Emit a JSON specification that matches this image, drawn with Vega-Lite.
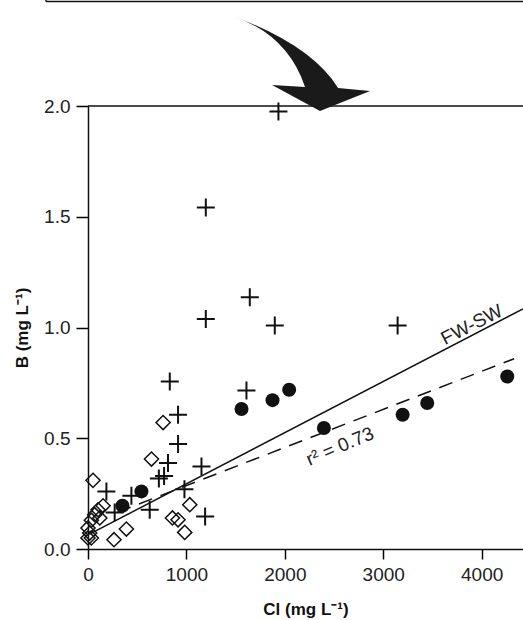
{
  "$schema": "https://vega.github.io/schema/vega-lite/v6.json",
  "autosize": {"type": "none"},
  "padding": {"left": 88, "top": 106, "right": 0, "bottom": 71},
  "width": 435,
  "height": 443,
  "background": "white",
  "config": {
    "view": {"stroke": null},
    "font": "Liberation Sans",
    "axis": {"grid": false, "ticks": true, "domainColor": "#111", "tickColor": "#000", "domainWidth": 1.5, "tickWidth": 1.5, "labelColor": "#222", "titleColor": "#111", "labelFontSize": 19, "labelFont": "Liberation Sans", "titleFont": "Liberation Sans", "titleFontSize": 17, "titleFontWeight": "bold"}
  },
  "datasets": {
    "pts": [
      {"cl": 1935, "b": 1.975, "type": "cross"},
      {"cl": 1197, "b": 1.542, "type": "cross"},
      {"cl": 1644, "b": 1.137, "type": "cross"},
      {"cl": 1197, "b": 1.038, "type": "cross"},
      {"cl": 1898, "b": 1.009, "type": "cross"},
      {"cl": 3146, "b": 1.009, "type": "cross"},
      {"cl": 831, "b": 0.756, "type": "cross"},
      {"cl": 1610, "b": 0.716, "type": "cross"},
      {"cl": 915, "b": 0.606, "type": "cross"},
      {"cl": 915, "b": 0.474, "type": "cross"},
      {"cl": 813, "b": 0.388, "type": "cross"},
      {"cl": 720, "b": 0.318, "type": "cross"},
      {"cl": 773, "b": 0.33, "type": "cross"},
      {"cl": 1153, "b": 0.373, "type": "cross"},
      {"cl": 980, "b": 0.27, "type": "cross"},
      {"cl": 627, "b": 0.177, "type": "cross"},
      {"cl": 187, "b": 0.26, "type": "cross"},
      {"cl": 441, "b": 0.24, "type": "cross"},
      {"cl": 271, "b": 0.165, "type": "cross"},
      {"cl": 1190, "b": 0.147, "type": "cross"},
      {"cl": 350, "b": 0.195, "type": "circle"},
      {"cl": 543, "b": 0.26, "type": "circle"},
      {"cl": 1560, "b": 0.632, "type": "circle"},
      {"cl": 1875, "b": 0.672, "type": "circle"},
      {"cl": 2044, "b": 0.719, "type": "circle"},
      {"cl": 2397, "b": 0.546, "type": "circle"},
      {"cl": 3197, "b": 0.606, "type": "circle"},
      {"cl": 3447, "b": 0.659, "type": "circle"},
      {"cl": 4260, "b": 0.779, "type": "circle"},
      {"cl": 763, "b": 0.571, "type": "diamond"},
      {"cl": 645, "b": 0.406, "type": "diamond"},
      {"cl": 51, "b": 0.31, "type": "diamond"},
      {"cl": 1034, "b": 0.2, "type": "diamond"},
      {"cl": 390, "b": 0.09, "type": "diamond"},
      {"cl": 264, "b": 0.042, "type": "diamond"},
      {"cl": 858, "b": 0.14, "type": "diamond"},
      {"cl": 915, "b": 0.132, "type": "diamond"},
      {"cl": 983, "b": 0.075, "type": "diamond"},
      {"cl": 153, "b": 0.195, "type": "diamond"},
      {"cl": 102, "b": 0.177, "type": "diamond"},
      {"cl": 68, "b": 0.155, "type": "diamond"},
      {"cl": 34, "b": 0.13, "type": "diamond"},
      {"cl": 0, "b": 0.095, "type": "diamond"},
      {"cl": 17, "b": 0.072, "type": "diamond"},
      {"cl": 0, "b": 0.05, "type": "diamond"},
      {"cl": 34, "b": 0.05, "type": "diamond"},
      {"cl": 120, "b": 0.14, "type": "diamond"}
    ],
    "lines": [
      {"cl": 20, "b": 0.068, "series": "FW-SW"},
      {"cl": 4420, "b": 1.084, "series": "FW-SW"},
      {"cl": 300, "b": 0.166, "series": "fit"},
      {"cl": 4330, "b": 0.859, "series": "fit"}
    ],
    "labels": [
      {"cl": 3900, "b": 1.012, "text": "FW-SW", "angle": 333},
      {"cl": 2560, "b": 0.463, "text": "r² = 0.73", "angle": 337}
    ],
    "arrow": [{"cl": 2180, "b": 2.19}],
    "frame": [
      {"cl": 0, "cl2": 4420, "b": 2, "b2": 2},
      {"cl": -427, "cl2": 4500, "b": 2.472, "b2": 2.472},
      {"cl": -427, "cl2": -427, "b": 2.472, "b2": 2.9}
    ]
  },
  "encoding": {
    "x": {"field": "cl", "type": "quantitative", "scale": {"domain": [0, 4420], "nice": false, "zero": false},
      "axis": {"values": [0, 1000, 2000, 3000, 4000], "format": "d", "ticks": true, "tickSize": 10, "labelPadding": 6, "title": "Cl (mg L⁻¹)", "titlePadding": 17, "labelFlush": false}},
    "y": {"field": "b", "type": "quantitative", "scale": {"domain": [0, 2], "nice": false},
      "axis": {"values": [0, 0.5, 1, 1.5, 2], "format": ".1f", "ticks": true, "tickSize": 12, "labelPadding": 6, "title": "B (mg L⁻¹)", "titlePadding": 12, "labelFlush": false}}
  },
  "layer": [
    {
      "data": {"name": "frame"},
      "mark": {"type": "rule", "color": "#111", "strokeWidth": 1.5},
      "encoding": {"x2": {"field": "cl2"}, "y2": {"field": "b2"}}
    },
    {
      "data": {"name": "lines"},
      "transform": [{"filter": "datum.series === 'FW-SW'"}],
      "mark": {"type": "line", "color": "#111", "strokeWidth": 1.5},
      "encoding": {}
    },
    {
      "data": {"name": "lines"},
      "transform": [{"filter": "datum.series === 'fit'"}],
      "mark": {"type": "line", "color": "#111", "strokeWidth": 1.5, "strokeDash": [14, 9]},
      "encoding": {}
    },
    {
      "data": {"name": "pts"},
      "transform": [{"filter": "datum.type === 'cross'"}],
      "mark": {"type": "point", "shape": "M-1,0L1,0M0,-1L0,1", "size": 324, "filled": false, "color": "#111", "strokeWidth": 2, "opacity": 1}
    },
    {
      "data": {"name": "pts"},
      "transform": [{"filter": "datum.type === 'diamond'"}],
      "mark": {"type": "point", "shape": "diamond", "size": 200, "filled": false, "color": "#111", "strokeWidth": 1.5, "opacity": 1}
    },
    {
      "data": {"name": "pts"},
      "transform": [{"filter": "datum.type === 'circle'"}],
      "mark": {"type": "point", "shape": "circle", "size": 196, "filled": true, "color": "#111", "opacity": 1}
    },
    {
      "data": {"name": "labels"},
      "mark": {"type": "text", "fontSize": 19, "color": "#222", "font": "Liberation Sans"},
      "encoding": {
        "text": {"field": "text"},
        "angle": {"field": "angle", "type": "quantitative", "scale": null}
      }
    },
    {
      "data": {"name": "arrow"},
      "mark": {"type": "point", "shape": "M-1,-0.696Q0.137,-0.27 0.526,0.356L1,0.4L0.259,0.696L-0.452,0.311L0.037,0.341Q-0.22,-0.42 -1,-0.696Z", "size": 18225, "filled": true, "color": "#1a1a1a", "opacity": 1}
    }
  ]
}
